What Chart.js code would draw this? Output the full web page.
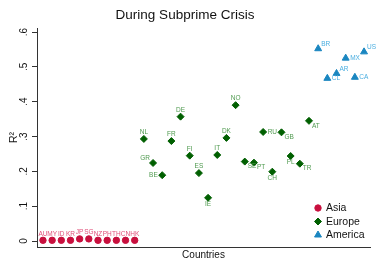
<!DOCTYPE html>
<html>
<head>
<meta charset="utf-8">
<script src="https://cdn.jsdelivr.net/npm/chart.js@4"></script>
<style>
  html, body { margin: 0; padding: 0; background: #fff; }
  #wrap { width: 380px; height: 276px; }
</style>
</head>
<body>
<div id="wrap"><canvas id="grafico"></canvas></div>
<script>
// countries in plotting order (x = position in the list)
const asia = ["AU", "MY", "ID", "KR", "JP", "SG", "NZ", "PH", "TH", "CN", "HK"];
const asiaR2 = [0.002, 0.002, 0.002, 0.002, 0.006, 0.006, 0.002, 0.002, 0.002, 0.002, 0.002];

const europe = ["NL", "GR", "BE", "FR", "DE", "FI", "ES", "IE", "IT", "DK", "NO",
                "SE", "PT", "RU", "CH", "GB", "PL", "TR", "AT"];
const europeR2 = [0.293, 0.224, 0.189, 0.287, 0.357, 0.245, 0.195, 0.124, 0.247, 0.296, 0.390,
                  0.228, 0.225, 0.313, 0.199, 0.312, 0.244, 0.222, 0.345];

const america = ["BR", "CL", "AR", "MX", "CA", "US"];
const americaR2 = [0.552, 0.467, 0.481, 0.525, 0.470, 0.543];

const yTicks = [0, 0.1, 0.2, 0.3, 0.4, 0.5, 0.6];

// label placement, clock positions like stata mlabpos
const asiaPos = asia.map(() => 12);
const europePos = [12, 11, 9, 12, 12, 12, 12, 6, 12, 12, 12, 4, 4, 3, 6, 4, 6, 4, 4];
const americaPos = [2, 3, 2, 3, 3, 2];

function pontos(lista, valores, inicio) {
    return lista.map((c, i) => ({ x: inicio + i + 1, y: valores[i], nome: c }));
}

const offsets = {
    12: [0, -6.5, "center"],
    6: [0, 6.5, "center"],
    3: [4.5, 0, "left"],
    9: [-4.5, 0, "right"],
    2: [3, -4.5, "left"],
    4: [3, 5, "left"],
    11: [-3, -5, "right"]
};

const rotulos = {
    id: "rotulos",
    afterDatasetsDraw(chart) {
        const ctx = chart.ctx;
        ctx.save();
        ctx.font = "6.5px 'Liberation Sans', Arial, sans-serif";
        ctx.textBaseline = "middle";
        chart.data.datasets.forEach((ds, di) => {
            const meta = chart.getDatasetMeta(di);
            ctx.fillStyle = ds.labelColor;
            meta.data.forEach((el, i) => {
                const o = offsets[ds.labelPos[i]];
                ctx.textAlign = o[2];
                ctx.fillText(ds.data[i].nome, el.x + o[0], el.y + o[1]);
            });
        });
        ctx.restore();
    }
};

const legenda = {
    id: "legenda",
    afterDraw(chart) {
        const ctx = chart.ctx;
        const h = Chart.helpers;
        ctx.save();
        ctx.font = "10.5px 'Liberation Sans', Arial, sans-serif";
        ctx.textBaseline = "middle";
        ctx.textAlign = "left";
        chart.data.datasets.forEach((ds, i) => {
            const y = 208 + i * 13.5;
            ctx.fillStyle = ds.backgroundColor;
            ctx.strokeStyle = ds.backgroundColor;
            ctx.lineWidth = 1;
            h.drawPoint(ctx, { pointStyle: ds.pointStyle, radius: ds.pointRadius, borderWidth: 1 }, 318, y);
            ctx.fillStyle = "#111";
            ctx.fillText(ds.label, 326, y + 0.5);
        });
        ctx.restore();
    }
};

new Chart(document.getElementById("grafico"), {
    type: "scatter",
    data: {
        datasets: [
            {
                label: "Asia",
                data: pontos(asia, asiaR2, 0),
                pointStyle: "circle",
                pointRadius: 3.2,
                backgroundColor: "#c8103e",
                borderColor: "#c8103e",
                borderWidth: 1,
                labelColor: "#e0507a",
                labelPos: asiaPos
            },
            {
                label: "Europe",
                data: pontos(europe, europeR2, asia.length),
                pointStyle: "rectRot",
                pointRadius: 3.5,
                backgroundColor: "#005f00",
                borderColor: "#005f00",
                borderWidth: 1,
                labelColor: "#4f9a4f",
                labelPos: europePos
            },
            {
                label: "America",
                data: pontos(america, americaR2, asia.length + europe.length),
                pointStyle: "triangle",
                pointRadius: 4,
                backgroundColor: "#1a86c0",
                borderColor: "#1a86c0",
                borderWidth: 1,
                labelColor: "#4aaee0",
                labelPos: americaPos
            }
        ]
    },
    options: {
        responsive: true,
        maintainAspectRatio: false,
        animation: false,
        layout: { padding: { left: 0, right: 10, top: 0, bottom: 0 } },
        plugins: {
            legend: { display: false },
            tooltip: { enabled: false },
            title: {
                display: true,
                text: "During Subprime Crisis",
                color: "#111",
                font: { family: "'Liberation Sans', Arial, sans-serif", size: 13.5, weight: "normal" },
                padding: { top: 7.5, bottom: 4.3 }
            }
        },
        scales: {
            x: {
                type: "linear",
                min: 0.35,
                max: 36.65,
                grid: { display: false },
                border: { display: true, color: "#333", width: 1 },
                ticks: { display: false },
                title: {
                    display: true,
                    text: "Countries",
                    color: "#111",
                    font: { family: "'Liberation Sans', Arial, sans-serif", size: 10 },
                    padding: { top: 0, bottom: 15 }
                },
                afterFit: s => { s.height = 29; }
            },
            y: {
                min: -0.0172,
                max: 0.6115,
                afterBuildTicks: s => { s.ticks = yTicks.map(v => ({ value: v })); },
                grid: { drawOnChartArea: false, drawTicks: true, tickLength: 5, color: "#333" },
                border: { display: true, color: "#333", width: 1 },
                ticks: {
                    minRotation: 90,
                    maxRotation: 90,
                    crossAlign: "center",
                    padding: 4,
                    color: "#111",
                    font: { family: "'Liberation Sans', Arial, sans-serif", size: 10 },
                    callback: v => v === 0 ? "0" : v.toFixed(1).replace("0.", ".")
                },
                title: {
                    display: true,
                    text: "R²",
                    color: "#111",
                    font: { family: "'Liberation Sans', Arial, sans-serif", size: 10.5 },
                    padding: { top: 8, bottom: 0 }
                },
                afterFit: s => { s.width = 37; }
            }
        }
    },
    plugins: [rotulos, legenda]
});
</script>
</body>
</html>
